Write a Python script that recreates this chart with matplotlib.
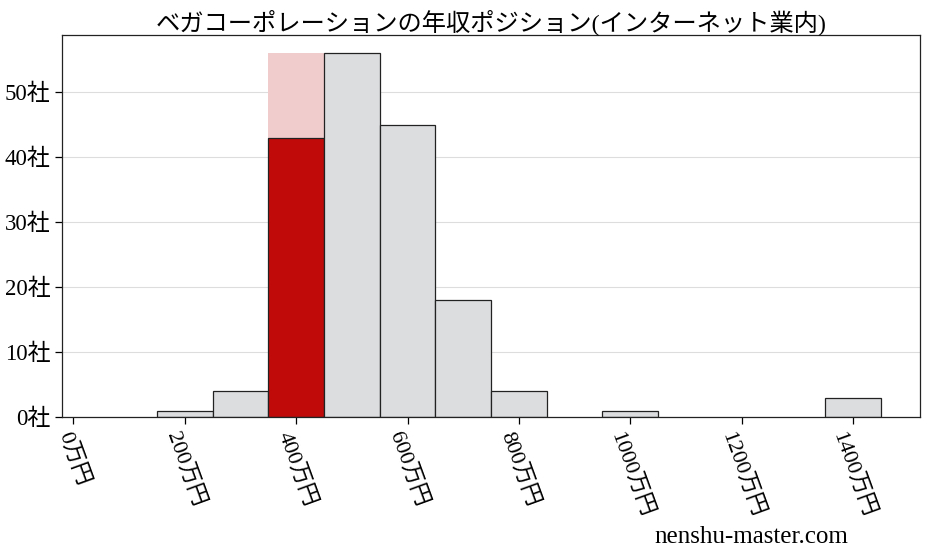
import numpy as np
import matplotlib.pyplot as plt

plt.rcParams['font.family'] = ['Liberation Serif', 'Noto Sans CJK JP']

# 年収帯（万円, ビン中心）と企業数
bin_centers = [200, 300, 400, 500, 600, 700, 800, 1000, 1400]
counts = [1, 4, 43, 56, 45, 18, 4, 1, 3]
highlight = 400
bin_width = 100

xticks = [0, 200, 400, 600, 800, 1000, 1200, 1400]
yticks = [0, 10, 20, 30, 40, 50]
title = 'ベガコーポレーションの年収ポジション(インターネット業内)'

fig = plt.figure(figsize=(9.27, 5.57), dpi=100)
ax = fig.add_axes([0.067, 0.251, 0.9255, 0.686])

ymax = max(counts)
# ハイライト背景
ax.bar(highlight, ymax, width=bin_width, color='#f0cccc', zorder=1)

colors = ['#c00a0a' if c == highlight else '#dcdddf' for c in bin_centers]
ax.bar(bin_centers, counts, width=bin_width, color=colors,
       edgecolor='#222222', linewidth=0.9, zorder=2)

ax.set_xlim(-20, 1520)
ax.set_ylim(0, ymax * 1.05)
ax.set_xticks(xticks)
ax.set_xticklabels([f'{v}万円' for v in xticks], rotation=-70, fontsize=16)
ax.set_yticks(yticks)
ax.set_yticklabels([f'{v}社' for v in yticks], fontsize=16.5)
ax.yaxis.grid(True, color='#dddddd', linewidth=0.8, zorder=0)
ax.set_axisbelow(True)
ax.tick_params(length=5, width=0.9)
for s in ax.spines.values():
    s.set_color('#222222')
    s.set_linewidth(0.9)

ax.set_title(title, fontsize=17.5, pad=4)
fig.text(0.915, 0.017, 'nenshu-master.com', fontsize=18, ha='right', va='bottom')

fig.savefig('out.png', dpi=100)
